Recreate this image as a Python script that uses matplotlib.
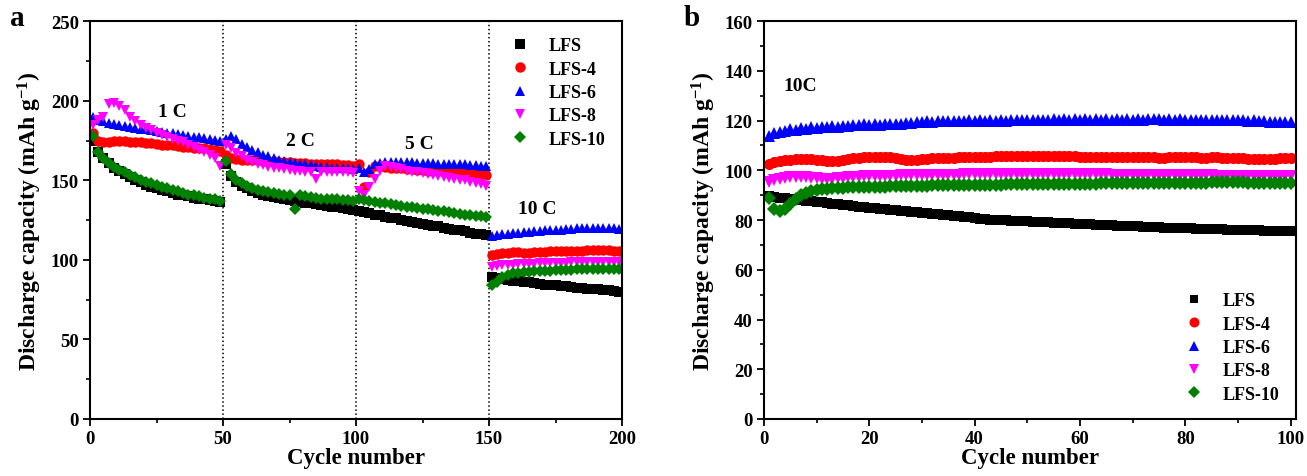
import numpy as np
import matplotlib
matplotlib.use("Agg")
import matplotlib.pyplot as plt
from matplotlib.ticker import MultipleLocator

plt.rcParams['font.family'] = ['Liberation Serif', 'DejaVu Serif']
plt.rcParams['font.weight'] = 'bold'
plt.rcParams['mathtext.fontset'] = 'custom'
plt.rcParams['mathtext.rm'] = 'Liberation Serif:bold'
plt.rcParams['mathtext.bf'] = 'Liberation Serif:bold'
plt.rcParams['mathtext.default'] = 'bf'

# ---- panel a: rate test, every second cycle (1, 3, ..., 199) ----
cyc_a = np.arange(1, 200, 2)
names = ['LFS', 'LFS-4', 'LFS-6', 'LFS-8', 'LFS-10']

lfs_a = [
    175, 168, 164, 161, 158, 156, 154, 152, 150, 149, 147, 146, 145, 144, 143, 142, 141, 140.5, 140, 139, 138.5, 138, 137.5, 137, 136.5,
    160, 153, 149, 146.5, 145, 143.5, 142, 141, 140, 139.5, 139, 138, 137.5, 137, 136.5, 136, 135.5, 135, 134.5, 134, 133.5, 133, 132.5, 132, 131.5,
    131, 130, 129.5, 128.5, 128, 127, 126.5, 126, 125, 124.5, 124, 123, 122.5, 122, 121.5, 121, 120, 119.5, 119, 118.5, 118, 117, 116.5, 116, 115.5,
    89, 88.5, 88, 87.5, 87, 86.5, 86, 86, 85.5, 85, 84.5, 84.5, 84, 83.5, 83.5, 83, 82.5, 82.5, 82, 81.5, 81.5, 81, 81, 80.5, 80]
lfs4_a = [
    180, 175, 174, 174, 174.5, 174.5, 174.5, 174, 174, 174, 173.5, 173.5, 173, 172.5, 172, 172, 171.5, 171, 171, 170.5, 170, 170, 169.5, 169, 168.5,
    166, 164, 163.5, 163, 163, 162.5, 162.5, 162, 162, 162, 161.5, 161.5, 161.5, 161, 161, 161, 160.5, 160.5, 160.5, 160, 160, 160, 159.5, 159.5, 159,
    160, 146, 155, 159, 159, 158.5, 158, 157.5, 157.5, 157, 157, 156.5, 156.5, 156, 156, 156, 155.5, 155.5, 155, 155, 154.5, 154.5, 154, 154, 153.5,
    103, 104, 104.5, 104.5, 105, 105, 104.5, 104.5, 105, 105, 105, 105.5, 105.5, 105.5, 105.5, 105.5, 105.5, 105.5, 106, 106, 106, 106, 106, 105.5, 105.5]
lfs6_a = [
    190, 188, 187, 186, 185.5, 185, 184, 183.5, 183, 182.5, 182, 181.5, 181, 180.5, 180, 179.5, 179, 178.5, 178, 177.5, 177, 176.5, 176, 175.5, 175,
    176, 178, 176, 173, 171, 169, 167.5, 166, 165, 164, 163, 162, 161.5, 161, 160.5, 160, 159.5, 159, 158.5, 158.5, 158, 158, 157.5, 157.5, 157,
    158, 155, 157, 160, 161, 161.5, 161.5, 161.5, 161.5, 161.5, 161.5, 161, 161, 161, 161, 160.5, 160.5, 160.5, 160, 160, 160, 159.5, 159.5, 159, 159,
    115, 115.5, 116, 116.5, 117, 117, 117.5, 117.5, 118, 118, 118.5, 118.5, 119, 119, 119.5, 119.5, 120, 120, 120, 120, 120, 120, 120, 120, 119.5]
lfs8_a = [
    185, 188, 190, 198, 198.5, 197, 194, 190, 187, 185, 183, 181.5, 180, 178.5, 177, 176, 175, 174, 172.5, 171, 169, 167.5, 166, 164, 159,
    172, 170, 167, 165, 163, 161.5, 160.5, 159.5, 158.5, 158, 157.5, 157, 156.5, 156, 156, 155.5, 155.5, 151, 155, 155, 155, 155, 155, 155, 154.5,
    143, 141, 146, 151, 156, 159, 158.5, 158, 157, 156, 155.5, 155, 154.5, 154, 153.5, 153, 152, 151.5, 151, 150.5, 150, 149, 148.5, 147.5, 146.5,
    95.5, 96, 96.5, 97, 97, 97.5, 97.5, 97.5, 97.5, 98, 98, 98, 98, 98, 98, 98.5, 98.5, 98.5, 98.5, 98.5, 98.5, 98.5, 98.5, 98.5, 98.5]
lfs10_a = [
    178, 168, 164, 161, 158.5, 156.5, 155, 153.5, 152, 150.5, 149, 148, 147, 146, 145, 144, 143, 142, 141, 140.5, 140, 139, 138.5, 138, 137,
    162, 154, 150.5, 148, 146.5, 145, 144, 143, 142.5, 142, 141.5, 141, 141, 132, 140.5, 140, 139.5, 139, 138.5, 138.5, 138, 138, 137.5, 137.5, 137,
    138, 137.5, 137, 136.5, 136, 135.5, 135, 134.5, 134, 133.5, 133, 132.5, 132, 132, 131.5, 131, 130.5, 130, 129.5, 129, 128.5, 128, 127.5, 127.5, 127,
    84, 86, 89, 90.5, 91.5, 92, 92.5, 92.5, 93, 93, 93, 93, 93.5, 93.5, 93.5, 93.5, 94, 94, 94, 94, 94, 94, 94, 94, 94]

# ---- panel b: 100 cycles at 10C ----
cyc_b = np.arange(1, 101)
lfs_b = [
    89.5, 89.2, 89, 88.8, 88.5, 88.3, 88, 87.8, 87.6, 87.4,
    87.2, 86.9, 86.6, 86.4, 86.1, 85.9, 85.6, 85.4, 85.2, 85.0,
    84.8, 84.6, 84.4, 84.2, 84.0, 83.8, 83.6, 83.4, 83.2, 83.0,
    82.8, 82.6, 82.4, 82.2, 82.0, 81.8, 81.6, 81.4, 81.2, 81.0,
    80.3, 80.3, 80.2, 80.1, 80.0, 79.9, 79.8, 79.7, 79.6, 79.5,
    79.4, 79.3, 79.2, 79.1, 79.0, 78.9, 78.8, 78.7, 78.6, 78.5,
    78.4, 78.3, 78.2, 78.1, 78.0, 77.9, 77.8, 77.7, 77.6, 77.5,
    77.5, 77.4, 77.3, 77.2, 77.1, 77.0, 77.0, 76.9, 76.8, 76.7,
    76.7, 76.6, 76.5, 76.5, 76.4, 76.3, 76.3, 76.2, 76.1, 76.1,
    76.0, 76.0, 75.9, 75.9, 75.8, 75.8, 75.7, 75.7, 75.6, 75.6]
lfs4_b = [
    102.5, 103.2, 103.6, 104, 104.2, 104.4, 104.5, 104.5, 104.4, 104.3,
    104, 103.8, 103.7, 103.9, 104.2, 104.6, 104.9, 105.1, 105.2, 105.3,
    105.4, 105.4, 105.3, 105.2, 105, 104.6, 104.3, 104.2, 104.3, 104.5,
    104.6, 104.8, 104.9, 105, 105, 105.1, 105.2, 105.3, 105.3, 105.4,
    105.4, 105.5, 105.5, 105.6, 105.6, 105.7, 105.7, 105.7, 105.8, 105.8,
    105.8, 105.7, 105.6, 105.6, 105.7, 105.8, 105.8, 105.7, 105.6, 105.5,
    105.5, 105.4, 105.4, 105.3, 105.3, 105.2, 105.2, 105.3, 105.4, 105.5,
    105.5, 105.4, 105.3, 105.2, 105.1, 105.1, 105.2, 105.3, 105.4, 105.4,
    105.3, 105.2, 105.1, 105.1, 105.2, 105.2, 105.1, 105, 104.9, 104.9,
    104.8, 104.7, 104.6, 104.6, 104.5, 104.6, 104.7, 104.8, 104.9, 104.8]
lfs6_b = [
    114, 115, 115.5, 116, 116.5, 116.2, 117, 116.8, 117.3, 117.1,
    117.6, 117.4, 117.8, 117.6, 118, 117.9, 118.3, 118.1, 118.5, 118.3,
    118.6, 118.4, 118.7, 118.5, 118.8, 118.7, 119.2, 119.0, 119.6, 119.4,
    119.8, 119.6, 119.9, 119.7, 120, 119.8, 120, 119.8, 120.1, 119.9,
    120.1, 119.9, 120.2, 120, 120.2, 120, 120.3, 120.1, 120.3, 120.1,
    120.4, 120.2, 120.4, 120.2, 120.5, 120.3, 120.5, 120.3, 120.6, 120.4,
    120.6, 120.4, 120.7, 120.4, 120.6, 120.4, 120.6, 120.4, 120.5, 120.3,
    120.6, 120.4, 120.8, 120.5, 120.6, 120.4, 120.5, 120.3, 120.5, 120.3,
    120.4, 120.2, 120.4, 120.2, 120.3, 120.1, 120.4, 120.2, 120.3, 120.1,
    120.2, 120, 120.1, 119.9, 119.8, 119.6, 119.6, 119.4, 119.6, 119.4]
lfs8_b = [
    95.5, 96, 96.5, 97, 97.2, 97.3, 97.3, 97.2, 97, 96.8,
    96.6, 96.5, 96.6, 96.8, 97, 97.2, 97.4, 97.5, 97.6, 97.7,
    97.8, 97.8, 97.8, 97.9, 97.9, 98, 98, 98, 98.1, 98.1,
    98.1, 98.2, 98.2, 98.2, 98.3, 98.3, 98.3, 98.4, 98.4, 98.4,
    98.4, 98.5, 98.5, 98.5, 98.5, 98.5, 98.6, 98.6, 98.6, 98.6,
    98.6, 98.6, 98.6, 98.6, 98.5, 98.5, 98.5, 98.5, 98.5, 98.5,
    98.4, 98.4, 98.4, 98.4, 98.4, 98.3, 98.3, 98.3, 98.3, 98.3,
    98.2, 98.2, 98.2, 98.2, 98.2, 98.1, 98.1, 98.1, 98.1, 98.1,
    98.0, 98.0, 98.0, 98.0, 98.0, 97.9, 97.9, 97.9, 97.9, 97.9,
    97.8, 97.8, 97.8, 97.8, 97.8, 97.7, 97.7, 97.7, 97.7, 97.6]
lfs10_b = [
    89, 84.5, 83.5, 84.5, 86.5, 88.5, 90, 91, 91.8, 92.2,
    92.5, 92.7, 92.9, 93, 93.1, 93.2, 93.2, 93.3, 93.3, 93.4,
    93.4, 93.5, 93.5, 93.6, 93.6, 93.7, 93.7, 93.8, 93.8, 93.9,
    93.9, 94, 94, 94, 94.1, 94.1, 94.1, 94.2, 94.2, 94.2,
    94.2, 94.3, 94.3, 94.3, 94.3, 94.4, 94.4, 94.4, 94.4, 94.5,
    94.5, 94.5, 94.5, 94.6, 94.6, 94.6, 94.6, 94.6, 94.7, 94.7,
    94.7, 94.7, 94.7, 94.8, 94.8, 94.8, 94.8, 94.8, 94.9, 94.9,
    94.9, 94.9, 95, 95, 95, 95, 95, 95.1, 95.1, 95.1,
    95.1, 95.1, 95.1, 95.1, 95.2, 95.2, 95.2, 95.2, 95.2, 95.2,
    95.2, 95.1, 95.1, 95.1, 95, 95, 95, 94.9, 94.9, 94.8]

rate_labels = ['1 C', '2 C', '5 C', '10 C']
rate_pos = [(31, 193), (79, 175), (124, 173), (168, 132)]
switch_cycles = [50, 100, 150]

colors = ['black', '#ff0000', '#0000ff', '#ff00ff', '#008000']
markers = ['s', 'o', '^', 'v', 'D']
msizes = [6.5, 7.5, 7.5, 7.5, 6.5]


def style_axes(ax):
    for sp in ax.spines.values():
        sp.set_linewidth(1.5)
    ax.tick_params(which='major', direction='out', length=5, width=1.3, labelsize=13.5, pad=3)
    ax.tick_params(which='minor', direction='out', length=3, width=1.2)
    for lab in ax.get_xticklabels() + ax.get_yticklabels():
        lab.set_fontweight('bold')
    ax.set_xlabel('Cycle number', fontsize=16.5, fontweight='bold', labelpad=0)
    ax.set_ylabel('Discharge capacity (mAh g$^{-1}$)', fontsize=17, fontweight='bold', labelpad=5)


fig = plt.figure(figsize=(13.07, 4.77), dpi=100)
ax1 = fig.add_axes([0.0689, 0.1195, 0.407, 0.834])
ax2 = fig.add_axes([0.5845, 0.1195, 0.407, 0.834])

series_a = [lfs_a, lfs4_a, lfs6_a, lfs8_a, lfs10_a]
for name, ys, c, m, ms in zip(names, series_a, colors, markers, msizes):
    ax1.plot(cyc_a, ys, linestyle='none', marker=m, color=c, markersize=ms,
             markeredgewidth=0, label=name)
for xc in switch_cycles:
    ax1.axvline(xc, color='black', linestyle=':', linewidth=1.1, zorder=0)
for txt, (tx, ty) in zip(rate_labels, rate_pos):
    ax1.text(tx, ty, txt, fontsize=14, fontweight='bold', ha='center', va='center')
ax1.set_xlim(0, 200)
ax1.set_ylim(0, 250)
ax1.xaxis.set_major_locator(MultipleLocator(50))
ax1.xaxis.set_minor_locator(MultipleLocator(25))
ax1.yaxis.set_major_locator(MultipleLocator(50))
ax1.yaxis.set_minor_locator(MultipleLocator(25))
style_axes(ax1)
ax1.legend(loc='upper right', frameon=False, fontsize=13, handletextpad=0.6,
           labelspacing=0.35, markerscale=1.0, borderaxespad=0.5)

series_b = [lfs_b, lfs4_b, lfs6_b, lfs8_b, lfs10_b]
for name, ys, c, m, ms in zip(names, series_b, colors, markers, msizes):
    ax2.plot(cyc_b, ys, linestyle='none', marker=m, color=c, markersize=ms + 0.5,
             markeredgewidth=0, label=name)
ax2.text(6.8, 134, '10C', fontsize=14, fontweight='bold', ha='center', va='center')
ax2.set_xlim(0, 101)
ax2.set_ylim(0, 160)
ax2.xaxis.set_major_locator(MultipleLocator(20))
ax2.xaxis.set_minor_locator(MultipleLocator(10))
ax2.yaxis.set_major_locator(MultipleLocator(20))
ax2.yaxis.set_minor_locator(MultipleLocator(10))
style_axes(ax2)
ax2.legend(loc='lower right', frameon=False, fontsize=13, handletextpad=0.6,
           labelspacing=0.35, markerscale=0.9, borderaxespad=0.5)

fig.text(0.008, 0.945, 'a', fontsize=21, fontweight='bold')
fig.text(0.523, 0.945, 'b', fontsize=21, fontweight='bold')

fig.savefig('out.png', dpi=100)
plt.close('all')
